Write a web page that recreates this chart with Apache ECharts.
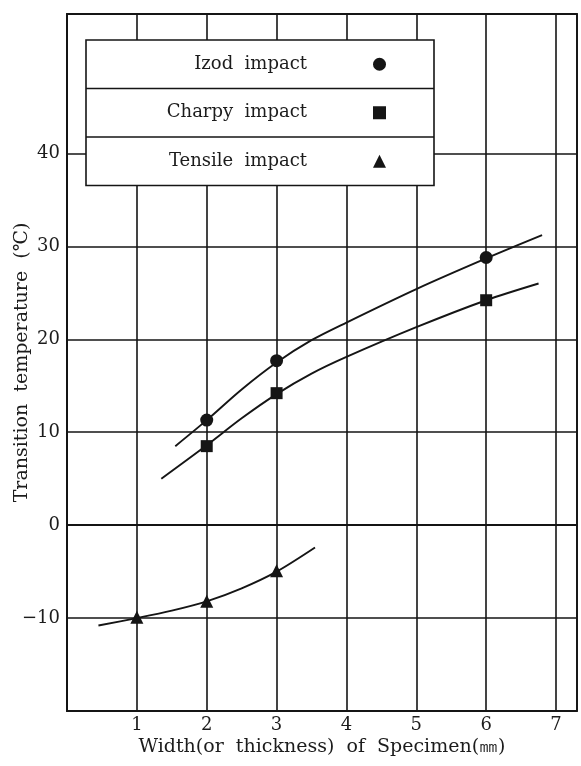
<!DOCTYPE html>
<html><head><meta charset="utf-8">
<script src="https://cdn.jsdelivr.net/npm/echarts@6/dist/echarts.min.js"></script>
<style>html,body{margin:0;padding:0;background:#fff}#c{width:581px;height:766px}</style>
</head><body><div id="c"></div>
<script>
const seriesNames = ['Izod impact', 'Charpy impact', 'Tensile impact'];
const izodPoints = [[2, 11.3], [3, 17.7], [6, 28.8]];
const charpyPoints = [[2, 8.5], [3, 14.2], [6, 24.2]];
const tensilePoints = [[1, -9.9], [2, -8.2], [3, -4.9]];
const izodCurve = [[1.55, 8.5], [2, 11.3], [2.5, 14.6], [3, 17.5], [3.5, 19.9], [4, 21.8], [5, 25.4], [6, 28.7], [6.8, 31.2]];
const charpyCurve = [[1.35, 5.0], [2, 8.6], [2.5, 11.5], [3, 14.1], [3.5, 16.3], [4, 18.1], [5, 21.3], [6, 24.2], [6.75, 26.0]];
const tensileCurve = [[0.45, -10.8], [1, -10.0], [1.5, -9.2], [2, -8.2], [2.5, -6.8], [3, -5.0], [3.55, -2.4]];
const xTicks = [1, 2, 3, 4, 5, 6, 7];
const yTicks = [-10, 0, 10, 20, 30, 40];
const xAxisName = 'Width(or  thickness)  of  Specimen(㎜)';
const yAxisName = 'Transition  temperature  (℃)';

const FONT = "'DejaVu Serif', 'Liberation Serif', serif";
const INK = '#151515';

const chart = echarts.init(document.getElementById('c'), null, {renderer: 'canvas'});

function curveSeries(name, data) {
  return {
    name: name, type: 'line', data: data, smooth: 0.3, symbol: 'none', showSymbol: false,
    silent: true, z: 2, lineStyle: {color: INK, width: 1.9}
  };
}
function pointSeries(name, data, symbol, size) {
  return {
    name: name, type: 'scatter', data: data, symbol: symbol, symbolSize: size, z: 3,
    itemStyle: {color: INK, opacity: 1}
  };
}

const s0 = pointSeries(seriesNames[0], izodPoints, 'circle', 13);
s0.markLine = {
  silent: true, z: 1, symbol: ['none', 'none'], label: {show: false},
  lineStyle: {color: INK, width: 1.6, type: 'solid'},
  data: yTicks.map(v => ({yAxis: v}))
};

const option = {
  animation: false,
  backgroundColor: '#fff',
  textStyle: {fontFamily: FONT},
  grid: {left: 67, right: 4, top: 14, bottom: 55, show: true, borderColor: INK, borderWidth: 1.8,
         containLabel: false, outerBoundsMode: 'none'},
  xAxis: {
    type: 'value', min: 0, max: 7.3, interval: 1,
    axisLine: {show: true, lineStyle: {color: INK, width: 1.8}},
    axisTick: {show: false},
    splitLine: {show: true, lineStyle: {color: INK, width: 1.6}},
    axisLabel: {
      formatter: v => xTicks.includes(v) ? String(v) : '',
      fontFamily: FONT, fontSize: 18, color: '#1c1c1c', margin: 5
    },
    name: xAxisName, nameLocation: 'middle', nameGap: 27, nameMoveOverlap: false,
    nameTextStyle: {fontFamily: FONT, fontSize: 19, color: '#1c1c1c'}
  },
  yAxis: {
    type: 'value', min: -20, max: 55, interval: 10,
    axisLine: {show: true, lineStyle: {color: INK, width: 1.8}},
    axisTick: {show: false},
    splitLine: {show: false},
    axisLabel: {
      formatter: v => yTicks.includes(v) ? (v < 0 ? '\u2212' + (-v) : String(v)) : '',
      fontFamily: FONT, fontSize: 18, color: '#1c1c1c', margin: 7
    },
    name: yAxisName, nameLocation: 'middle', nameGap: 35, nameMoveOverlap: false,
    nameTextStyle: {fontFamily: FONT, fontSize: 19, color: '#1c1c1c'}
  },
  legend: {
    orient: 'vertical', left: 86, top: 40, align: 'right', itemGap: 0,
    padding: [0, 48, 0, 1], backgroundColor: '#fff', borderColor: INK, borderWidth: 1.6,
    itemWidth: 13, itemHeight: 13, selectedMode: false,
    data: [
      {name: seriesNames[0], icon: 'circle'},
      {name: seriesNames[1], icon: 'rect'},
      {name: seriesNames[2], icon: 'triangle'}
    ],
    formatter: name => '{a|' + name.replace(' ', '  ') + '}{b| }',
    textStyle: {
      rich: {
        a: {width: 220, align: 'right', height: 48.5, lineHeight: 48.5, fontFamily: FONT, fontSize: 18, color: '#1c1c1c'},
        b: {width: 61, height: 48.5, lineHeight: 48.5}
      }
    }
  },
  graphic: [
    {type: 'line', z: 100, shape: {x1: 86, y1: 88.5, x2: 434, y2: 88.5}, style: {stroke: INK, lineWidth: 1.5}},
    {type: 'line', z: 100, shape: {x1: 86, y1: 137, x2: 434, y2: 137}, style: {stroke: INK, lineWidth: 1.5}}
  ],
  series: [
    curveSeries('Izod curve', izodCurve),
    curveSeries('Charpy curve', charpyCurve),
    curveSeries('Tensile curve', tensileCurve),
    s0,
    pointSeries(seriesNames[1], charpyPoints, 'rect', 12),
    pointSeries(seriesNames[2], tensilePoints, 'triangle', 13)
  ]
};
chart.setOption(option);
</script></body></html>
